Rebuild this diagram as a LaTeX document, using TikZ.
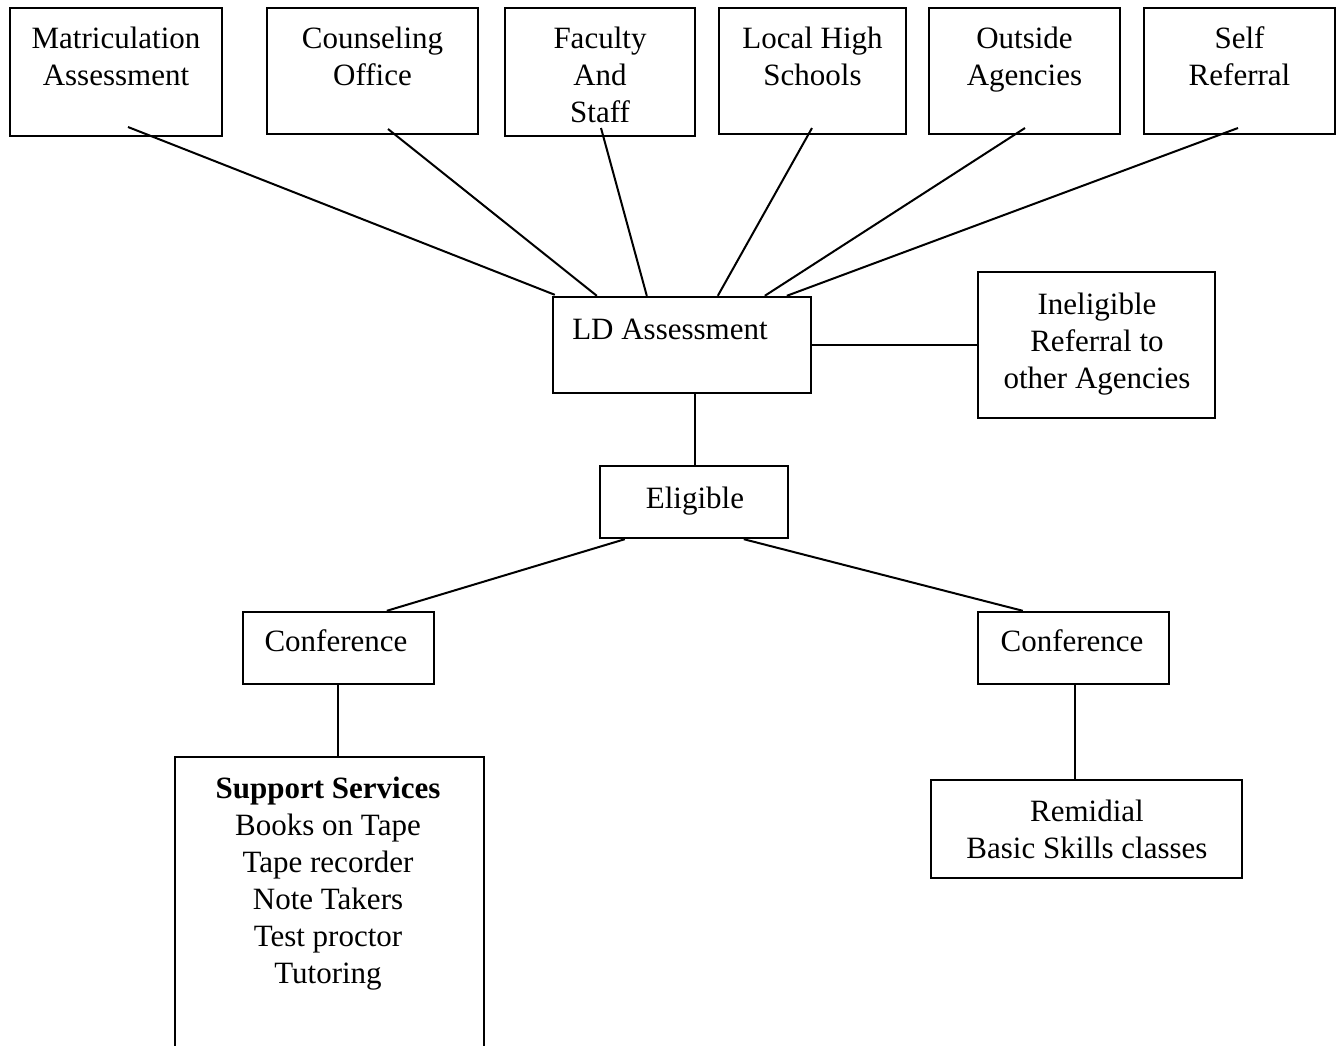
\documentclass[tikz,border=0pt]{standalone}
\usepackage{fontspec}
\setmainfont{Liberation Serif}
\usetikzlibrary{calc}
\begin{document}
\begin{tikzpicture}[x=1pt,y=-1pt,
  box/.style={draw=black,line width=2.4pt,rectangle,inner sep=0pt},
  txt/.style={inner sep=0pt,align=center,anchor=base,font=\fontsize{31}{37}\selectfont},
  link/.style={draw=black,line width=2pt}]
\useasboundingbox[fill=white] (0,0) rectangle (1342,1045);
% top row (anchor = baseline of the last line)
\node[box,minimum width=212,minimum height=128] (m) at (116,72) {};
\node[txt] (mt) at (116,85) {Matriculation\\Assessment};
\node[box,minimum width=211,minimum height=126] (c) at (372.5,71) {};
\node[txt] (ct) at (372.5,85) {Counseling\\Office};
\node[box,minimum width=190,minimum height=128] (f) at (600,72) {};
\node[txt] (ft) at (600,122) {Faculty\\And\\Staff};
\node[box,minimum width=187,minimum height=126] (l) at (812.5,71) {};
\node[txt] (lt) at (812.5,85) {Local High\\Schools};
\node[box,minimum width=191,minimum height=126] (o) at (1024.5,71) {};
\node[txt] (ot) at (1024.5,85) {Outside\\Agencies};
\node[box,minimum width=191,minimum height=126] (s) at (1239.5,71) {};
\node[txt] (st) at (1239.5,85) {Self\\Referral};
% middle
\node[box,minimum width=258,minimum height=96] (ld) at (682,345) {};
\node[txt] (ldt) at (670,339) {LD Assessment};
\node[box,minimum width=237,minimum height=146] (in) at (1096.5,345) {};
\node[txt] (int) at (1097,388) {Ineligible\\Referral to\\other Agencies};
\node[box,minimum width=188,minimum height=72] (el) at (694,502) {};
\node[txt] (elt) at (695,508) {Eligible};
\node[box,minimum width=191,minimum height=72] (cl) at (338.5,648) {};
\node[txt] (clt) at (336,651) {Conference};
\node[box,minimum width=191,minimum height=72] (cr) at (1073.5,648) {};
\node[txt] (crt) at (1072,651) {Conference};
\node[box,minimum width=309,minimum height=300] (sup) at (329.5,907) {};
\node[txt] (supt) at (328,983) {\textbf{Support Services}\\Books on Tape\\Tape recorder\\Note Takers\\Test proctor\\Tutoring};
\node[box,minimum width=311,minimum height=98] (rem) at (1086.5,829) {};
\node[txt] (remt) at (1087,858) {Remidial\\Basic Skills classes};
% connector start points inside top boxes
\coordinate (m1) at (128,127);
\coordinate (c1) at (388,129);
\coordinate (f1) at (601,128);
\coordinate (l1) at (812,128);
\coordinate (o1) at (1025,128);
\coordinate (s1) at (1238,128);
\draw[link] (m1) -- ($(ld.north west)+(3,-1)$);
\draw[link] (c1) -- ($(ld.north west)+(45,0)$);
\draw[link] (f1) -- ($(ld.north west)+(95,0)$);
\draw[link] (l1) -- ($(ld.north west)+(166,0)$);
\draw[link] (o1) -- ($(ld.north west)+(213,0)$);
\draw[link] (s1) -- ($(ld.north west)+(235,0)$);
\draw[link] (ld.east) -- (in.west);
\draw[link] (ld.south -| 695,0) -- (el.north -| 695,0);
\draw[link] ($(el.south west)+(26,0)$) -- ($(cl.north west)+(145,0)$);
\draw[link] ($(el.south west)+(145,0)$) -- ($(cr.north west)+(46,0)$);
\draw[link] (cl.south -| 338,0) -- (sup.north -| 338,0);
\draw[link] (cr.south -| 1075,0) -- (rem.north -| 1075,0);
\end{tikzpicture}
\end{document}
